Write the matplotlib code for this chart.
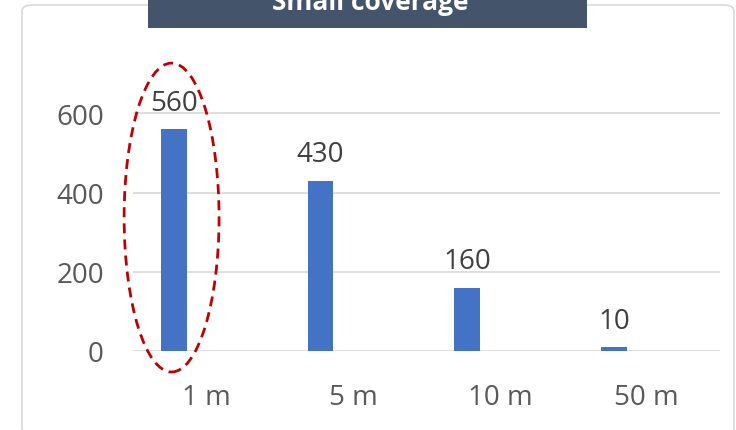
import matplotlib.pyplot as plt
import numpy as np
from matplotlib.patches import Ellipse, FancyBboxPatch, Rectangle

plt.rcParams['font.family'] = ['Open Sans', 'DejaVu Sans']

# data
categories = ['1 m', '5 m', '10 m', '50 m']
values = [560, 430, 160, 10]
title = 'Small coverage'

bar_color = '#4472C4'
grid_color = '#D9D9D9'
tick_color = '#595959'
label_color = '#404040'

fig = plt.figure(figsize=(7.36, 4.31), dpi=100)

# outer rounded border (bottom edge runs just past the picture)
border = FancyBboxPatch((22 / 736, -4 / 431), (734 - 22) / 736, (431 - 6 + 4) / 431,
                        boxstyle='round,pad=0,rounding_size=0.014',
                        transform=fig.transFigure, facecolor='none',
                        edgecolor=grid_color, linewidth=1.2, zorder=-1)
fig.patches.append(border)

ax = fig.add_axes([133 / 736, 1 - 352 / 431, 587 / 736, (352 - 74.8) / 431])
ax.set_facecolor('none')

x = np.arange(len(categories))
offset = -0.222
width = 0.175
bars = ax.bar(x + offset, values, width=width, color=bar_color, zorder=3)

for xi, v in zip(x + offset, values):
    ax.annotate(str(v), (xi, v), xytext=(0, 14), textcoords='offset points',
                ha='center', va='baseline', fontsize=20, color=label_color,
                annotation_clip=False)

ax.set_xlim(-0.5, len(categories) - 0.5)
ax.set_ylim(0, 700)
ax.set_yticks([0, 200, 400, 600])
ax.set_xticks(x)
ax.set_xticklabels(categories)
ax.tick_params(axis='both', length=0, labelsize=20, labelcolor=tick_color)
ax.tick_params(axis='y', pad=21)
ax.tick_params(axis='x', pad=23)
for s in ax.spines.values():
    s.set_visible(False)
for t in [0, 200, 400, 600]:
    ax.axhline(t, color=grid_color, linewidth=1.2, zorder=1)

# highlight ellipse around the first bar
ell = Ellipse((x[0] + offset - 0.015, 337), 0.647, 780, fill=False,
              edgecolor='#C00000', linewidth=2.0, linestyle=(0, (3.6, 2.2)),
              clip_on=False, zorder=4)
ax.add_patch(ell)

# title box
tbox = Rectangle((148 / 736, 1 - 29 / 431), (587 - 148) / 736, 29 / 431 + 0.01,
                 transform=fig.transFigure, facecolor='#44546A',
                 edgecolor='none', zorder=5)
fig.patches.append(tbox)
fig.text(370 / 736, 1 - 10 / 431, title, ha='center', va='baseline',
         fontsize=19, fontweight='bold', color='white', zorder=6)

fig.savefig('out.png', dpi=100)
